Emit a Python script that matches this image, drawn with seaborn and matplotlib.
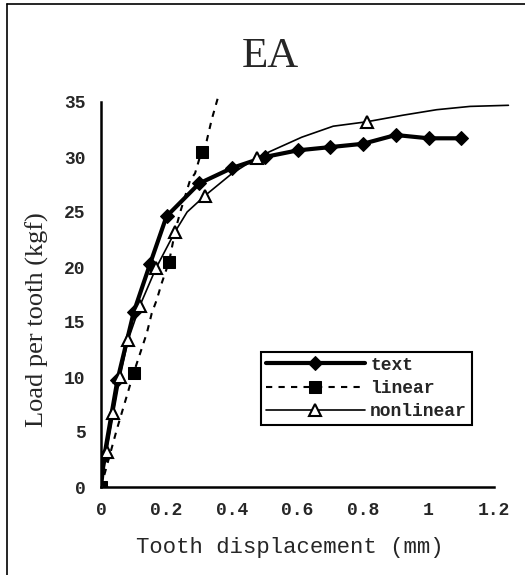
import matplotlib
matplotlib.use("Agg")
import matplotlib.pyplot as plt
from matplotlib.lines import Line2D
import seaborn as sns

# ---- data ----
text_x = [0, 0.01, 0.05, 0.1, 0.15, 0.2, 0.3, 0.4, 0.5, 0.6, 0.7, 0.8, 0.9, 1.0, 1.1]
text_y = [0, 2.8, 9.7, 15.9, 20.3, 24.6, 27.6, 29.0, 30.0, 30.6, 30.9, 31.2, 32.0, 31.7, 31.7]

linear_x = [0, 0.048, 0.1, 0.12, 0.14, 0.155, 0.17, 0.185, 0.208, 0.226, 0.241,
            0.272, 0.287, 0.307, 0.323, 0.338, 0.358]
linear_y = [0, 5.2, 10.4, 12.2, 14.0, 15.8, 17.0, 18.5, 20.5, 23.2, 24.9,
            27.9, 28.5, 30.5, 31.5, 33.4, 35.5]
linear_marks = [0, 2, 8, 13]

nonlin_x = [0, 0.017, 0.038, 0.058, 0.083, 0.119, 0.168, 0.226, 0.263, 0.318, 0.40,
            0.475, 0.516, 0.613, 0.709, 0.811, 0.922, 1.025, 1.127, 1.244]
nonlin_y = [0, 3.2, 6.7, 10.0, 13.4, 16.5, 19.9, 23.2, 25.0, 26.5, 28.5,
            29.9, 30.5, 31.8, 32.8, 33.2, 33.8, 34.3, 34.6, 34.7]
nonlin_marks = [0, 1, 2, 3, 4, 5, 6, 7, 9, 11, 15]

x_ticks = [0, 0.2, 0.4, 0.6, 0.8, 1.0, 1.2]
x_labels = ["0", "0.2", "0.4", "0.6", "0.8", "1", "1.2"]
y_ticks = [0, 5, 10, 15, 20, 25, 30, 35]
series_names = ["text", "linear", "nonlinear"]

sns.set_theme(style="white")
plt.rcParams["font.family"] = ["Liberation Mono", "DejaVu Sans Mono"]

fig = plt.figure(figsize=(5.25, 5.75), dpi=100)
ax = fig.add_axes([101 / 525, 1 - 487 / 575, (1.25 * 327.5) / 525, 36 * 11 / 575])

sns.lineplot(x=text_x, y=text_y, ax=ax, color="black", lw=3.0, marker="D",
             markersize=7, markeredgecolor="black", markerfacecolor="black",
             sort=False, estimator=None, label=series_names[0])
sns.lineplot(x=linear_x, y=linear_y, ax=ax, color="black", lw=1.5,
             linestyle=(0, (3, 3)), marker="s", markersize=9,
             markevery=linear_marks, markeredgecolor="black", markerfacecolor="black",
             sort=False, estimator=None, label=series_names[1])
sns.lineplot(x=nonlin_x, y=nonlin_y, ax=ax, color="black", lw=1.2, marker="^",
             markersize=9, markevery=nonlin_marks, markeredgecolor="black",
             markerfacecolor="white", markeredgewidth=1.5,
             sort=False, estimator=None, label=series_names[2])

ax.set_xlim(0, 1.25)
ax.set_ylim(0, 36)
for s in ["top", "right"]:
    ax.spines[s].set_visible(False)
ax.spines["left"].set_bounds(0, 35)
ax.spines["bottom"].set_bounds(0, 1.2)
for s in ["left", "bottom"]:
    ax.spines[s].set_color("black")
    ax.spines[s].set_linewidth(1.8)

ax.set_xticks(x_ticks)
ax.set_xticklabels(x_labels)
ax.set_yticks(y_ticks)
ax.tick_params(axis="both", direction="in", length=5, width=1.5, color="black",
               labelsize=13, pad=11)
for lab in ax.get_xticklabels() + ax.get_yticklabels():
    lab.set_fontweight("bold")
ax.set_xlabel("")
ax.set_ylabel("")

fig.text(290 / 525, 1 - 547 / 575, "Tooth displacement (mm)", ha="center", va="center",
         fontsize=16, family=["Liberation Mono"])
fig.text(37 / 525, 1 - 320 / 575, "Load per tooth (kgf)", ha="center", va="center",
         rotation=90, fontsize=19, family=["Liberation Serif"])
fig.text(270 / 525, 1 - 57 / 575, "EA", ha="center", va="center",
         fontsize=31, family=["Liberation Serif"])

leg = ax.legend(loc="upper left", bbox_to_anchor=(261 / 525, 1 - 352 / 575),
                bbox_transform=fig.transFigure, frameon=True, fancybox=False,
                edgecolor="black", framealpha=1, handlelength=5.5,
                prop={"family": "Liberation Mono", "weight": "bold", "size": 13},
                borderpad=0.25, labelspacing=0.35, handletextpad=0.3, borderaxespad=0)
leg.get_frame().set_linewidth(1.5)

fig.add_artist(Line2D([7 / 525, 7 / 525], [0, 1 - 4 / 575], color="black", lw=1.2,
                      transform=fig.transFigure))
fig.add_artist(Line2D([7 / 525, 1], [1 - 4 / 575, 1 - 4 / 575], color="black", lw=1.2,
                      transform=fig.transFigure))

fig.savefig("out.png", dpi=100)
